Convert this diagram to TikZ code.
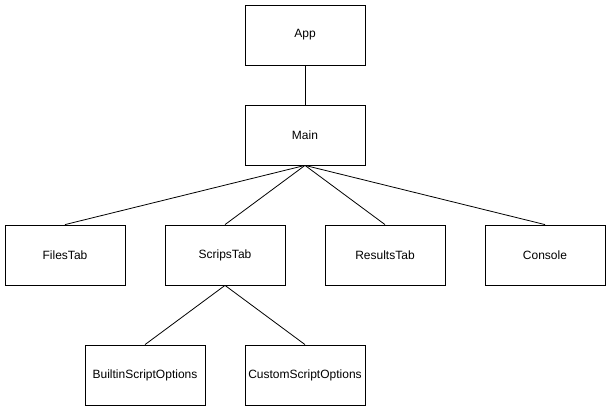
\documentclass[tikz,border=0pt]{standalone}
\usepackage{fontspec}
\setmainfont{Liberation Sans}
\begin{document}
\begin{tikzpicture}[x=1pt, y=-1pt, auto,
  box/.style={draw, thick, line width=0.8pt, minimum width=120pt, minimum height=60pt, inner sep=0pt, font=\fontsize{12}{14}\selectfont},
  link/.style={line width=0.8pt}]

\useasboundingbox (0,0) rectangle (611,411);

 % tree of components
\node[box] (app) at (305,35) {App};
\node[box] (main) at (305,135) {Main};

\node[box] (files) at (65,255) {FilesTab};
\node[box] (scrips) at (225,255) {ScripsTab};
\node[box] (results) at (385,255) {ResultsTab};
\node[box] (console) at (545,255) {Console};

\node[box] (builtin) at (145,375) {BuiltinScriptOptions};
\node[box] (custom) at (305,375) {CustomScriptOptions};

\draw[link] (app.south) -- (main.north);
\draw[link] (main.south) -- (files.north);
\draw[link] (main.south) -- (scrips.north);
\draw[link] (main.south) -- (results.north);
\draw[link] (main.south) -- (console.north);

\draw[link] (scrips.south) -- (builtin.north);
\draw[link] (scrips.south) -- (custom.north);

\end{tikzpicture}
\end{document}
